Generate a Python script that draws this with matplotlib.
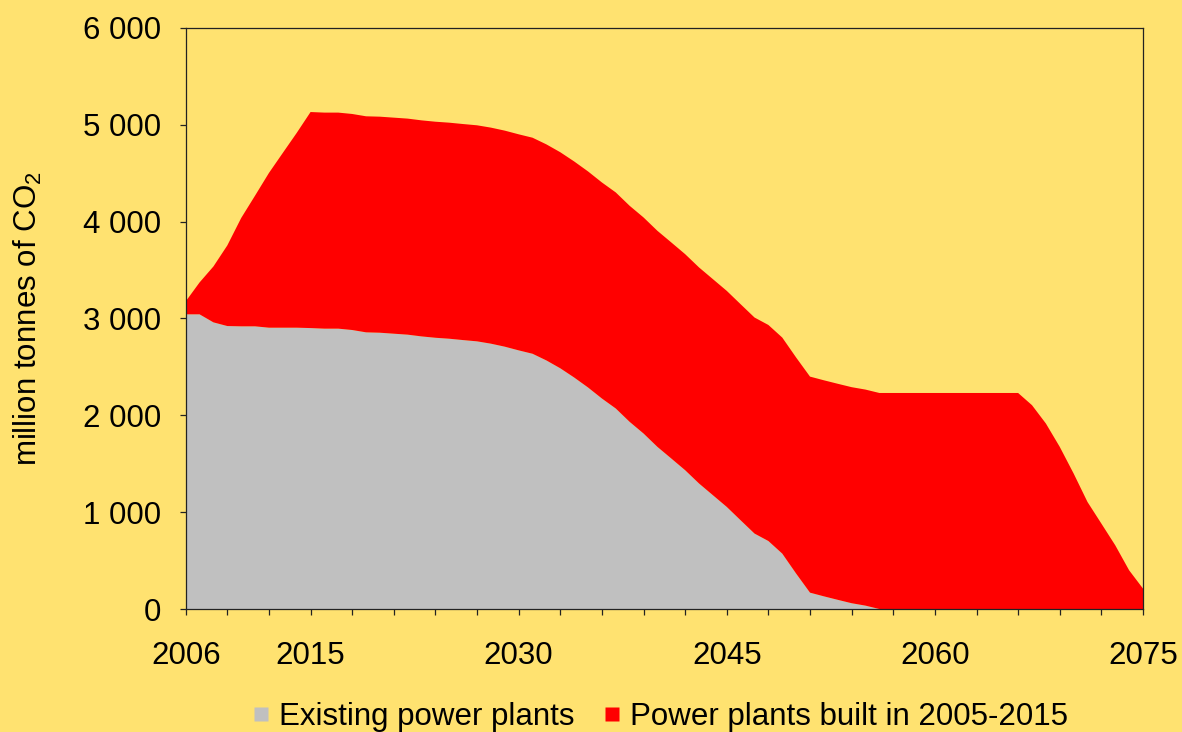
import numpy as np
import matplotlib
matplotlib.use("Agg")
import matplotlib.pyplot as plt
from matplotlib.lines import Line2D

# Arial Narrow look-alike is not available, so plain Liberation Sans at a size that keeps the widths
plt.rcParams['font.family'] = ['Liberation Sans', 'DejaVu Sans']
plt.rcParams['mathtext.fontset'] = 'custom'
plt.rcParams['mathtext.rm'] = 'Liberation Sans'
plt.rcParams['mathtext.default'] = 'regular'

# data (million tonnes CO2 per year)
years = np.arange(2006, 2076)

existing = [3042, 3042, 2959, 2921, 2918, 2918, 2904, 2904, 2904, 2900,
            2894, 2894, 2880, 2856, 2852, 2842, 2832, 2814, 2800, 2790,
            2776, 2763, 2739, 2708, 2670, 2635, 2566, 2485, 2390, 2287,
            2173, 2070, 1932, 1812, 1674, 1554, 1433, 1296, 1175, 1054,
            916, 779, 702, 572, 366, 169, 131, 95, 60, 35,
            0, 0, 0, 0, 0, 0, 0, 0, 0, 0,
            0, 0, 0, 0, 0, 0, 0, 0, 0, 0]

built_2005_2015 = [133, 329, 577, 832, 1118, 1349, 1597, 1804, 2010, 2230,
                   2230, 2230, 2230, 2230, 2230, 2230, 2230, 2230, 2230, 2230,
                   2230, 2230, 2230, 2230, 2230, 2230, 2230, 2230, 2230, 2230,
                   2230, 2230, 2230, 2230, 2230, 2230, 2230, 2230, 2230, 2230,
                   2230, 2230, 2230, 2230, 2230, 2230, 2230, 2230, 2230, 2230,
                   2230, 2230, 2230, 2230, 2230, 2230, 2230, 2230, 2230, 2230,
                   2230, 2104, 1915, 1674, 1399, 1105, 882, 658, 400, 211]

series_labels = ["Existing power plants", "Power plants built in 2005-2015"]
series_colors = ["#C0C0C0", "#FF0000"]

xtick_major = [2006, 2015, 2030, 2045, 2060, 2075]
ytick_values = [0, 1000, 2000, 3000, 4000, 5000, 6000]
ytick_labels = ["0", "1 000", "2 000", "3 000", "4 000", "5 000", "6 000"]

bg = "#FFE270"
fs = 22.5

fig = plt.figure(figsize=(11.82, 7.32), dpi=100, facecolor=bg)
ax = fig.add_axes([0.1571, 0.168, 0.8099, 0.7941], facecolor=bg)

ax.stackplot(years, existing, built_2005_2015, colors=series_colors,
             linewidth=0, edgecolor='none')

ax.set_xlim(2006, 2075)
ax.set_ylim(0, 6000)

# every third year gets a tick, only some of them a label
minor_years = np.arange(2006, 2076, 3)
ax.set_xticks(minor_years)
ax.set_xticklabels([str(y) if y in xtick_major else "" for y in minor_years])
ax.set_yticks(ytick_values)
ax.set_yticklabels(ytick_labels)

ax.tick_params(axis='both', direction='out', length=4.6, width=0.9,
               color='#222222', labelsize=fs)
ax.tick_params(axis='x', pad=18.3)
ax.tick_params(axis='y', pad=13)

for sp in ax.spines.values():
    sp.set_color('#222222')
    sp.set_linewidth(0.9)

ax.set_ylabel("million tonnes of CO$_2$", fontsize=fs)
ax.yaxis.set_label_coords(-0.1475, 0.5)

handles = [Line2D([], [], linestyle='none', marker='s', markersize=9.5,
                  markerfacecolor=c, markeredgecolor='none') for c in series_colors]
fig.legend(handles, series_labels, loc='center', bbox_to_anchor=(0.5597, 0.021),
           ncol=2, frameon=False, fontsize=fs, handlelength=0.4,
           handletextpad=0.37, columnspacing=1.0, borderaxespad=0)

fig.savefig("out.png", dpi=100, facecolor=bg)
